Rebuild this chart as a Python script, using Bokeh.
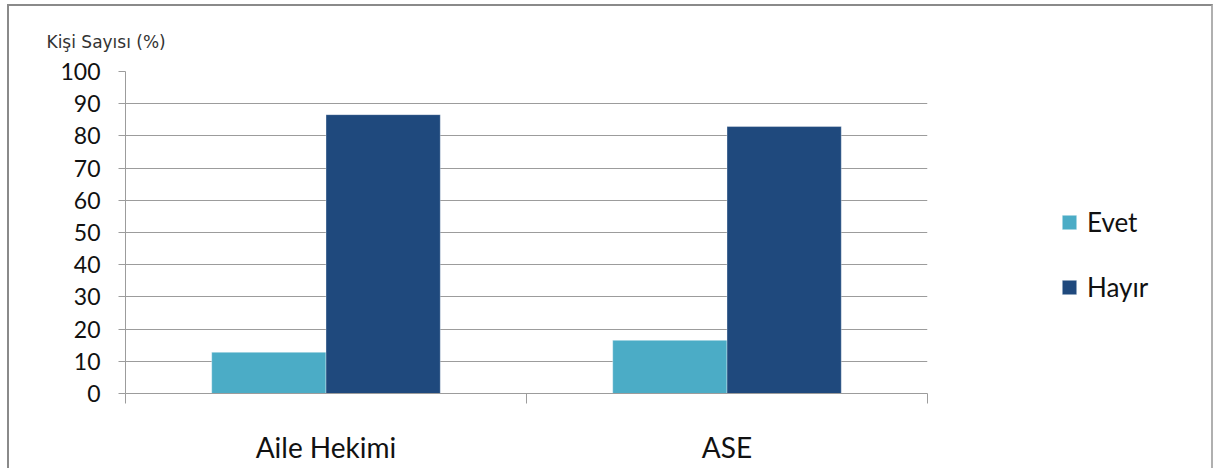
from bokeh.plotting import figure
from bokeh.models import (Range1d, LinearAxis, FixedTicker, Grid,
                          Legend, LegendItem, ColumnDataSource, Title)
from bokeh.transform import dodge
from bokeh.embed import file_html
from bokeh.resources import INLINE

# Survey answers (percent of respondents)
categories = ["Aile Hekimi", "ASE"]
evet = [12.8, 16.5]
hayir = [86.6, 82.9]
series_names = ["Evet", "Hayır"]
y_ticks = [0, 10, 20, 30, 40, 50, 60, 70, 80, 90, 100]
y_title = "Kişi Sayısı (%)"

EVET_COLOR = "#4BACC6"
HAYIR_COLOR = "#1F497D"
AXIS_GRAY = "#9c9c9c"
TEXT_COLOR = "#111111"
FONT = "Lato"

n = len(categories)
centers = [i + 0.5 for i in range(n)]   # one unit-wide slot per category
edges = list(range(n + 1))

src = ColumnDataSource(dict(pos=centers, cat=categories, evet=evet, hayir=hayir))

p = figure(frame_width=802, frame_height=322,
           x_range=Range1d(0, n), y_range=Range1d(0, 100),
           x_axis_type=None, y_axis_type=None,
           output_backend="svg", toolbar_location=None,
           min_border_left=125, min_border_right=0,
           min_border_top=71, min_border_bottom=75)
p.outline_line_color = None
p.background_fill_color = "white"
p.border_fill_color = "white"

# value axis
y_ticker = FixedTicker(ticks=y_ticks)
yaxis = LinearAxis(ticker=y_ticker)
yaxis.axis_line_color = AXIS_GRAY
yaxis.major_tick_line_color = AXIS_GRAY
yaxis.major_tick_out = 7
yaxis.major_tick_in = 0
yaxis.minor_tick_line_color = None
yaxis.major_label_standoff = 18
yaxis.major_label_text_font = FONT
yaxis.major_label_text_font_size = "23px"
yaxis.major_label_text_color = TEXT_COLOR
p.add_layout(yaxis, "left")
p.add_layout(Grid(dimension=1, ticker=y_ticker, grid_line_color=AXIS_GRAY,
                  grid_line_width=1.2))

# category axis: labels centred on each group, tick marks on group edges
xaxis = LinearAxis(ticker=FixedTicker(ticks=centers, minor_ticks=edges),
                   major_label_overrides={c: name for c, name in zip(centers, categories)})
xaxis.axis_line_color = AXIS_GRAY
xaxis.major_tick_line_color = None
xaxis.major_tick_out = 0
xaxis.major_tick_in = 0
xaxis.minor_tick_line_color = AXIS_GRAY
xaxis.minor_tick_out = 10
xaxis.minor_tick_in = 0
xaxis.major_label_standoff = 26
xaxis.major_label_text_font = FONT
xaxis.major_label_text_font_size = "28px"
xaxis.major_label_text_color = TEXT_COLOR
p.add_layout(xaxis, "below")

bar_w = 0.285
r_evet = p.vbar(x=dodge("pos", -bar_w / 2), top="evet", width=bar_w,
                source=src, fill_color=EVET_COLOR, line_color="#ffffff", line_alpha=0.35)
r_hayir = p.vbar(x=dodge("pos", bar_w / 2), top="hayir", width=bar_w,
                 source=src, fill_color=HAYIR_COLOR, line_color="#ffffff", line_alpha=0.35)

# legend in the right-hand margin
legend = Legend(items=[LegendItem(label=series_names[0], renderers=[r_evet]),
                       LegendItem(label=series_names[1], renderers=[r_hayir])],
                location=(133, 90), orientation="vertical",
                glyph_width=18, glyph_height=18, label_height=18,
                spacing=33, padding=0, margin=0, label_standoff=9,
                label_text_font=FONT, label_text_font_size="26px",
                label_text_color=TEXT_COLOR, label_text_baseline="middle",
                border_line_color=None, background_fill_alpha=0)
p.add_layout(legend, "right")

p.add_layout(Title(text=y_title, align="left", offset=-79, standoff=39,
                   text_font="DejaVu Sans", text_font_size="17px",
                   text_font_style="normal", text_color="#333333"), "above")

html = file_html(p, INLINE)

# page without scrollbars, and a thin gray frame around the chart, open at the bottom
page_css = "<style>html,body{margin:0;overflow:hidden;}</style>"
frame_div = ('<div style="position:fixed;left:7px;top:4px;width:1206px;height:520px;'
             'box-sizing:border-box;border-left:2px solid #8a8a8a;'
             'border-top:2px solid #8a8a8a;border-right:2px solid #b0b0b0;'
             'pointer-events:none;z-index:10;"></div>')
cut = html.rfind("</body>")
html = html[:cut] + frame_div + html[cut:]
cut = html.rfind("</head>")
html = html[:cut] + page_css + html[cut:]

open("out.html", "w").write(html)
